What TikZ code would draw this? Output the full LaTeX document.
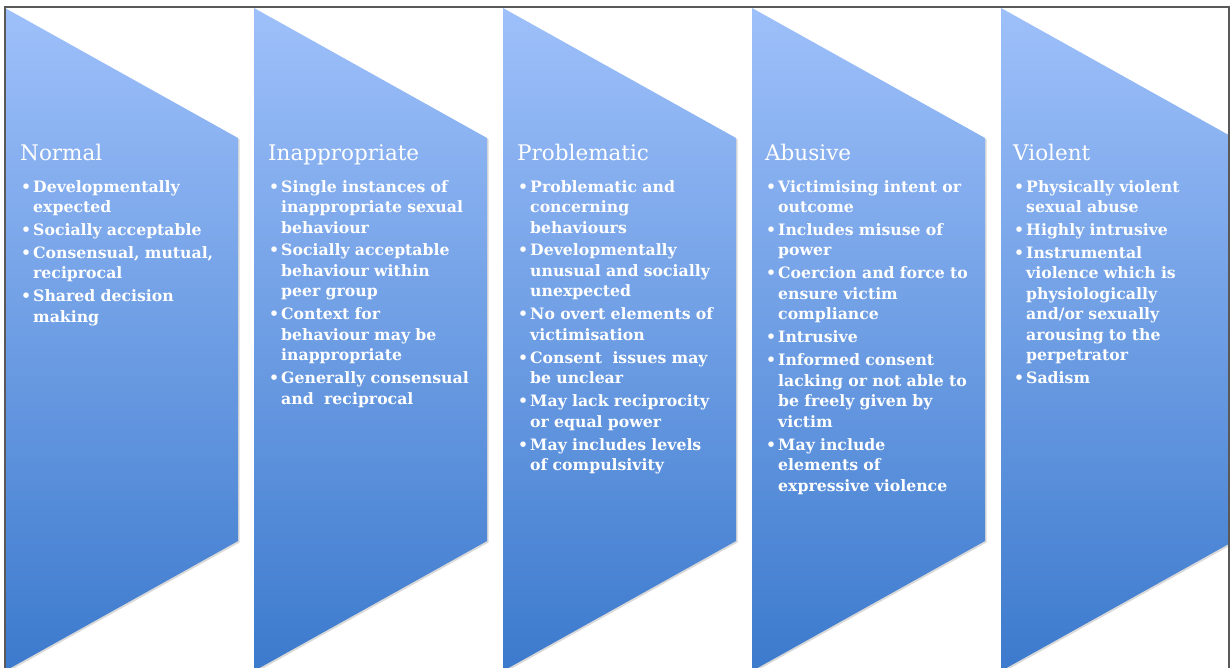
\documentclass[tikz,border=0pt]{standalone}
\usepackage{fontspec}
\setmainfont{DejaVu Serif}
\usetikzlibrary{shadows,positioning}
\definecolor{chevTop}{RGB}{158,192,250}
\definecolor{chevBot}{RGB}{60,122,205}
\newcommand{\ChevW}{233}
\newcommand{\ChevGap}{249}
\tikzset{
  chev/.style={top color=chevTop, bottom color=chevBot, draw=none,
    drop shadow={shadow xshift=1.5pt, shadow yshift=-1.5pt, opacity=0.3}},
  frame/.style={draw=black!65, line width=1.2pt},
  stagetitle/.style={anchor=base west, inner sep=0pt, text=white,
    font=\fontsize{21.5}{25}\selectfont},
  stagelist/.style={inner sep=0pt, text=white, text width=218pt, align=left,
    font=\bfseries\fontsize{15.7}{20.5}\selectfont}
}
% one bullet with hanging indent
\newcommand{\bitem}[1]{\par\hangindent=13pt\hangafter=1\noindent
  \makebox[13pt][l]{\hspace{1pt}\textbullet}\strut#1\strut\par}
\newcommand{\nl}{\strut\newline\strut}

\begin{document}
\begin{tikzpicture}[x=1pt,y=-1pt]
  \useasboundingbox (0,0) rectangle (1230,668);
  \begin{scope}
    \clip (5,7) rectangle (1229,668);
    % the five stages
    \foreach \k in {0,...,4}{
      \pgfmathsetmacro{\xl}{5+\ChevGap*\k}
      \path[chev] (\xl,8) -- ++(\ChevW,130) -- ++(0,403) -- ++(-\ChevW,130) -- cycle;
    }
  \end{scope}
  \draw[frame] (5,672) -- (5,7) -- (1229,7) -- (1229,672);

  % titles
  \node[stagetitle] (t1) at (20,161) {Normal};
  \node[stagetitle] (t2) at (268,161) {Inappropriate};
  \node[stagetitle] (t3) at (517,161) {Problematic};
  \node[stagetitle] (t4) at (765,161) {Abusive};
  \node[stagetitle] (t5) at (1013,161) {Violent};

  % bullet lists
  \node[stagelist, below right=8pt and 0pt of t1.base west] (b1) {%
    \setlength{\parskip}{2.4pt}%
    \bitem{Developmentally\nl expected}
    \bitem{Socially acceptable}
    \bitem{Consensual, mutual,\nl reciprocal}
    \bitem{Shared decision\nl making}};
  \node[stagelist, below right=8pt and 0pt of t2.base west] (b2) {%
    \setlength{\parskip}{2.4pt}%
    \bitem{Single instances of\nl inappropriate sexual\nl behaviour}
    \bitem{Socially acceptable\nl behaviour within\nl peer group}
    \bitem{Context for\nl behaviour may be\nl inappropriate}
    \bitem{Generally consensual\nl and\ \ reciprocal}};
  \node[stagelist, below right=8pt and 0pt of t3.base west] (b3) {%
    \setlength{\parskip}{2.4pt}%
    \bitem{Problematic and\nl concerning\nl behaviours}
    \bitem{Developmentally\nl unusual and socially\nl unexpected}
    \bitem{No overt elements of\nl victimisation}
    \bitem{Consent\ \ issues may\nl be unclear}
    \bitem{May lack reciprocity\nl or equal power}
    \bitem{May includes levels\nl of compulsivity}};
  \node[stagelist, below right=8pt and 0pt of t4.base west] (b4) {%
    \setlength{\parskip}{2.4pt}%
    \bitem{Victimising intent or\nl outcome}
    \bitem{Includes misuse of\nl power}
    \bitem{Coercion and force to\nl ensure victim\nl compliance}
    \bitem{Intrusive}
    \bitem{Informed consent\nl lacking or not able to\nl be freely given by\nl victim}
    \bitem{May include\nl elements of\nl expressive violence}};
  \node[stagelist, below right=8pt and 0pt of t5.base west] (b5) {%
    \setlength{\parskip}{2.4pt}%
    \bitem{Physically violent\nl sexual abuse}
    \bitem{Highly intrusive}
    \bitem{Instrumental\nl violence which is\nl physiologically\nl and/or sexually\nl arousing to the\nl perpetrator}
    \bitem{Sadism}};
\end{tikzpicture}
\end{document}
